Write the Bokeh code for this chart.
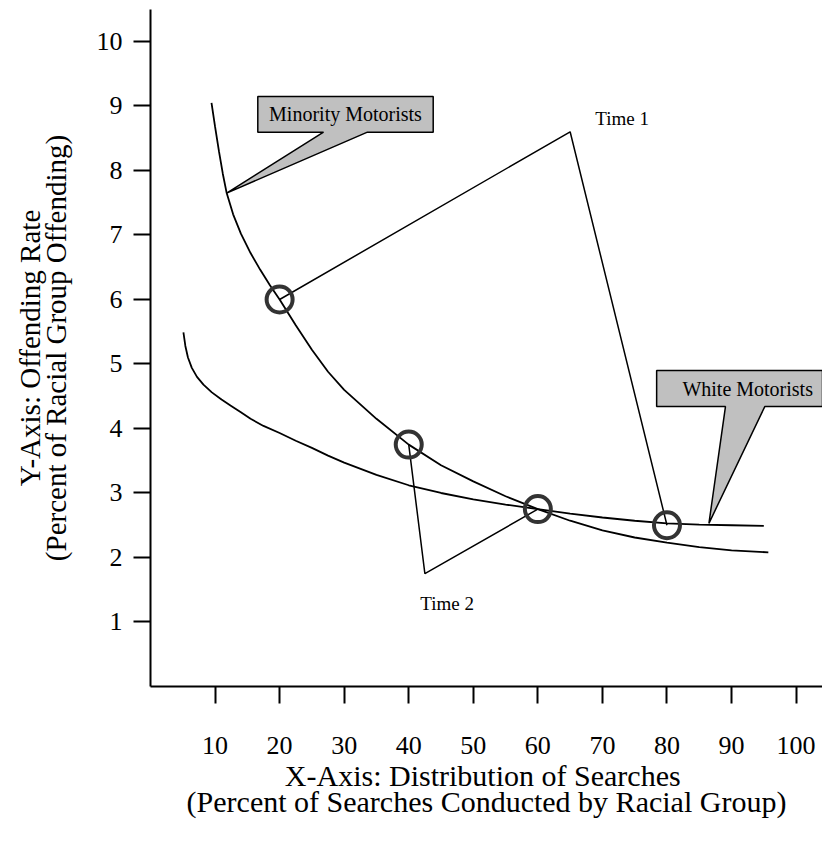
from bokeh.plotting import figure
from bokeh.models import Range1d, FixedTicker, LinearAxis
from bokeh.core.properties import value
from bokeh.embed import file_html
from bokeh.resources import INLINE

FONT = "Liberation Serif"

# ---- data ----
minority_x = [9.45, 10.0, 10.6, 11.2, 11.8, 12.8, 14, 15.5, 17, 18.5, 20, 22.5, 25, 27.5, 30, 35, 40,
              45, 50, 55, 60, 65, 70, 75, 80, 85, 90, 95.7]
minority_y = [9.05, 8.68, 8.3, 7.95, 7.65, 7.32, 7.02, 6.72, 6.46, 6.22, 6.0, 5.6, 5.22, 4.88, 4.6, 4.15, 3.75,
              3.43, 3.18, 2.95, 2.75, 2.57, 2.42, 2.31, 2.23, 2.16, 2.11, 2.08]

white_x = [5.1, 5.4, 5.8, 6.4, 7.2, 8.2, 9.5, 11, 12.5, 14, 15.5, 17.5, 20, 22.5, 25, 27.5, 30, 35, 40,
           45, 50, 55, 60, 65, 70, 75, 80, 85, 90, 95]
white_y = [5.49, 5.28, 5.1, 4.94, 4.8, 4.68, 4.56, 4.45, 4.35, 4.25, 4.15, 4.04, 3.93, 3.81, 3.7, 3.58, 3.47, 3.28, 3.12,
           3.0, 2.9, 2.82, 2.75, 2.68, 2.62, 2.57, 2.53, 2.51, 2.5, 2.49]

point_x = [20, 40, 60, 80]
point_y = [6.0, 3.75, 2.75, 2.5]

time1_x = [20, 65, 80]
time1_y = [6.0, 8.6, 2.5]
time2_x = [40, 42.5, 60]
time2_y = [3.75, 1.75, 2.75]

x_ticks = [10, 20, 30, 40, 50, 60, 70, 80, 90, 100]
y_ticks = [1, 2, 3, 4, 5, 6, 7, 8, 9, 10]

p = figure(width=822, height=848, output_backend="svg", toolbar_location=None,
           x_range=Range1d(0, 104.09), y_range=Range1d(0, 10.496),
           x_axis_type=None, y_axis_type=None,
           min_border_left=150, min_border_right=0, min_border_top=9, min_border_bottom=162)
p.outline_line_color = None
p.xgrid.visible = False
p.ygrid.visible = False
p.background_fill_color = "white"

xaxis = LinearAxis(ticker=FixedTicker(ticks=x_ticks),
                   axis_label="X-Axis:  Distribution of Searches\n(Percent of Searches Conducted by Racial Group)")
yaxis = LinearAxis(ticker=FixedTicker(ticks=y_ticks),
                   axis_label="Y-Axis: Offending Rate\n(Percent of Racial Group Offending)")
for ax in (xaxis, yaxis):
    ax.axis_line_width = 2
    ax.axis_line_color = "black"
    ax.major_tick_line_width = 2
    ax.major_tick_line_color = "black"
    ax.major_tick_in = 0
    ax.major_tick_out = 17
    ax.minor_tick_line_color = None
    ax.major_label_text_font = FONT
    ax.major_label_text_font_size = "26px"
    ax.major_label_text_color = "black"
    ax.axis_label_text_font = FONT
    ax.axis_label_text_font_style = "normal"
    ax.axis_label_text_color = "black"
    ax.axis_label_text_line_height = 0.8
xaxis.axis_label_text_font_size = "30px"
yaxis.axis_label_text_font_size = "29px"
xaxis.major_label_standoff = 33
xaxis.axis_label_standoff = 2
yaxis.major_label_standoff = 11
yaxis.axis_label_standoff = 22
p.add_layout(xaxis, "below")
p.add_layout(yaxis, "left")

# curves
p.line(minority_x, minority_y, line_color="black", line_width=1.8)
p.line(white_x, white_y, line_color="black", line_width=1.8)

# time paths
p.line(time1_x, time1_y, line_color="black", line_width=1.5)
p.line(time2_x, time2_y, line_color="black", line_width=1.5)

# circles
p.scatter(point_x, point_y, marker="circle", size=26, fill_color=None,
          line_color="#333333", line_width=4)

# callouts (box + pointer as one polygon)
def callout(x0, x1, ytop, ybot, b1, b2, tipx, tipy):
    xs = [x0, x1, x1, b2, tipx, b1, x0]
    ys = [ytop, ytop, ybot, ybot, tipy, ybot, ybot]
    p.patch(xs, ys, fill_color="#c0c0c0", line_color="black", line_width=1.5)

callout(16.62, 43.79, 9.147, 8.594, 26.8, 33.6, minority_x[4], minority_y[4])
callout(78.4, 104.09, 4.90, 4.34, 89.06, 95.15, 86.5, 2.53)

p.text(x=[30.2], y=[8.87], text=["Minority Motorists"], text_font=value(FONT),
       text_font_size="20px", text_align="center", text_baseline="middle", text_color="black")
p.text(x=[92.5], y=[4.62], text=["White Motorists"], text_font=value(FONT),
       text_font_size="20px", text_align="center", text_baseline="middle", text_color="black")

p.text(x=[68.9], y=[8.80], text=["Time 1"], text_font=value(FONT),
       text_font_size="19px", text_align="left", text_baseline="middle", text_color="black")
p.text(x=[41.8], y=[1.28], text=["Time 2"], text_font=value(FONT),
       text_font_size="19px", text_align="left", text_baseline="middle", text_color="black")

open("out.html", "w").write(file_html(p, INLINE))
